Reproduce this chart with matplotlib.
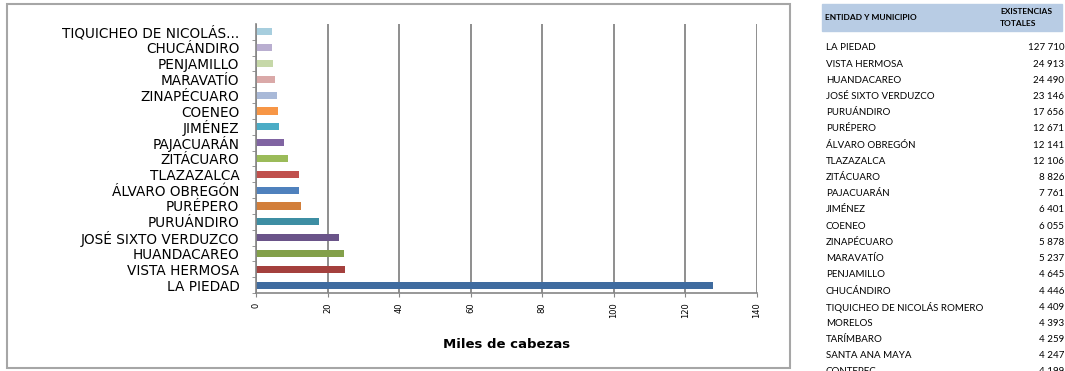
import matplotlib
matplotlib.use("Agg")
import matplotlib.pyplot as plt
from matplotlib.patches import Rectangle

# --- Data (existencias totales, cabezas)
municipios = ["LA PIEDAD", "VISTA HERMOSA", "HUANDACAREO", "JOSÉ SIXTO VERDUZCO",
              "PURUÁNDIRO", "PURÉPERO", "ÁLVARO OBREGÓN", "TLAZAZALCA",
              "ZITÁCUARO", "PAJACUARÁN", "JIMÉNEZ", "COENEO", "ZINAPÉCUARO",
              "MARAVATÍO", "PENJAMILLO", "CHUCÁNDIRO", "TIQUICHEO DE NICOLÁS ROMERO"]
existencias = [127710, 24913, 24490, 23146, 17656, 12671, 12141, 12106,
               8826, 7761, 6401, 6055, 5878, 5237, 4645, 4446, 4409]
etiquetas = ["LA PIEDAD", "VISTA HERMOSA", "HUANDACAREO", "JOSÉ SIXTO VERDUZCO",
             "PURUÁNDIRO", "PURÉPERO", "ÁLVARO OBREGÓN", "TLAZAZALCA",
             "ZITÁCUARO", "PAJACUARÁN", "JIMÉNEZ", "COENEO", "ZINAPÉCUARO",
             "MARAVATÍO", "PENJAMILLO", "CHUCÁNDIRO", "TIQUICHEO DE NICOLÁS..."]
colores = ["#3F6B9F", "#A4403D", "#83A04A", "#6A5489", "#3D8EA3", "#D27E3A",
           "#4F81BD", "#C0504D", "#9BBB59", "#8064A2", "#4BACC6", "#F79646",
           "#A9B9D8", "#DAA9A8", "#C6D8A8", "#B9AED0", "#A7CEDE"]

# rows that appear only in the side table
extra_municipios = ["MORELOS", "TARÍMBARO", "SANTA ANA MAYA", "CONTEPEC"]
extra_existencias = [4393, 4259, 4247, 4199]

W, H = 1065, 371
fig = plt.figure(figsize=(W / 100, H / 100), dpi=100)


def fx(px):
    return px / W


def fy(py):
    return 1 - py / H


# --- chart frame
fig.patches.append(Rectangle((fx(7), fy(368)), fx(790) - fx(7), fy(4) - fy(368),
                             transform=fig.transFigure, fill=False,
                             edgecolor="#A6A6A6", linewidth=1.5))

ax = fig.add_axes([fx(256), fy(293), fx(757) - fx(256), fy(24) - fy(293)])
pos = list(range(len(municipios)))
ax.barh(pos, [v / 1000 for v in existencias], height=0.45, color=colores)
ax.set_ylim(-0.5, len(municipios) - 0.5)
ax.set_xlim(0, 140)
ax.set_xticks(range(0, 141, 20))
ax.set_yticks(pos)
ax.set_yticklabels(etiquetas, fontsize=9.8, family="DejaVu Sans")
ax.tick_params(axis="x", labelrotation=90, labelsize=6, length=3, color="#868686", pad=4)
ax.tick_params(axis="y", length=3, color="#868686", pad=12)
ax.set_yticks([p + 0.5 for p in pos[:-1]] + [-0.5], minor=True)
ax.tick_params(axis="y", which="minor", length=3, color="#868686")
ax.tick_params(axis="y", which="major", length=0)
ax.grid(axis="x", color="#868686", linewidth=1.3)
ax.set_axisbelow(True)
for s in ["top", "right"]:
    ax.spines[s].set_visible(False)
for s in ["left", "bottom"]:
    ax.spines[s].set_color("#868686")
    ax.spines[s].set_linewidth(1.2)
ax.set_xlabel("Miles de cabezas", fontsize=9.5, fontweight="bold", labelpad=14)

# --- side table
fig.patches.append(Rectangle((fx(822), fy(31)), fx(1062) - fx(822), fy(4) - fy(31),
                             transform=fig.transFigure, color="#B8CCE4"))
fig.text(fx(825), fy(17), "ENTIDAD Y MUNICIPIO", fontsize=6, fontweight="bold",
         family="Lato", va="center", ha="left")
fig.text(fx(1000), fy(11), "EXISTENCIAS", fontsize=6, fontweight="bold",
         family="Lato", va="center", ha="left")
fig.text(fx(1000), fy(24), "TOTALES", fontsize=6, fontweight="bold",
         family="Lato", va="center", ha="left")

nombres = municipios + extra_municipios
valores = existencias + extra_existencias
for i, (n, v) in enumerate(zip(nombres, valores)):
    y = 48 + i * 16.2
    fig.text(fx(826), fy(y), n, fontsize=7, family="Lato", va="center", ha="left")
    fig.text(fx(1064), fy(y), f"{v:,}".replace(",", " "), fontsize=7,
             family="Lato", va="center", ha="right")

fig.savefig("out.png", dpi=100)
